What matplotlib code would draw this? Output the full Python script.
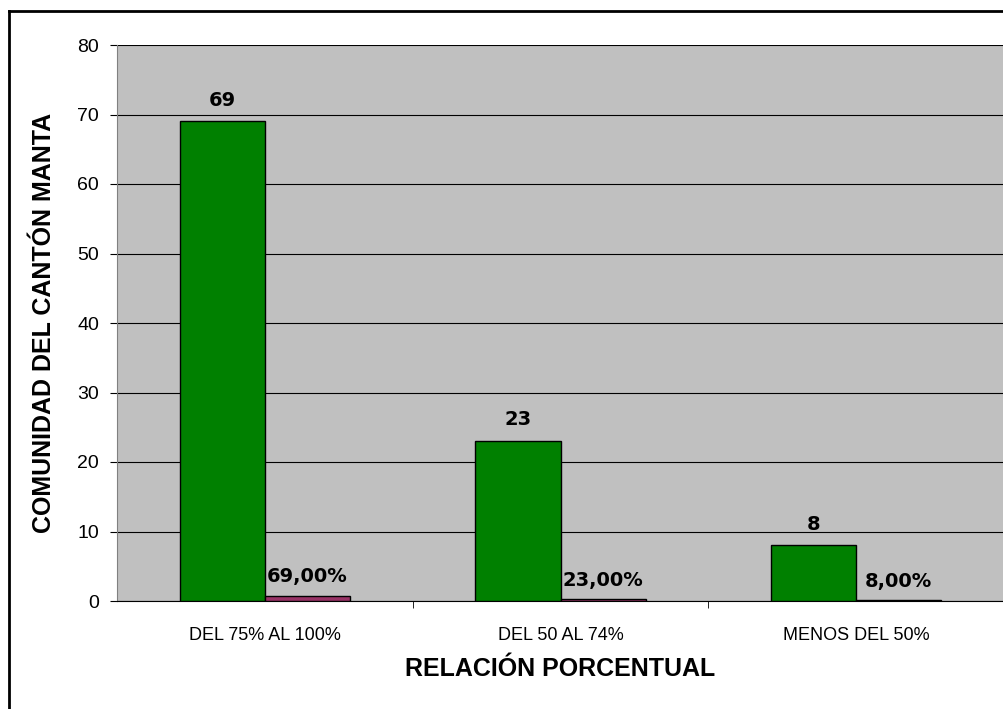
import matplotlib.pyplot as plt
import numpy as np
from matplotlib.lines import Line2D

categorias = ['DEL 75% AL 100%', 'DEL 50 AL 74%', 'MENOS DEL 50%']
comunidad = [69, 23, 8]
porcentaje = [0.69, 0.23, 0.08]
etiquetas_pct = ['69,00%', '23,00%', '8,00%']

fig = plt.figure(figsize=(10.04, 7.09), dpi=100)
ax = fig.add_axes([117 / 1004, 1 - 601 / 709, 887 / 1004, 556 / 709])

x = np.arange(len(categorias))
w = 0.288
ax.bar(x - w / 2, comunidad, w, color='#008000', edgecolor='black', linewidth=1, zorder=3)
ax.bar(x + w / 2, porcentaje, w, color='#993366', edgecolor='black', linewidth=1, zorder=3)

# etiquetas de datos
for i, v in enumerate(comunidad):
    ax.text(i - w / 2, v + 1.7, str(v), ha='center', va='bottom',
            fontsize=14, fontweight='bold', family='DejaVu Sans', zorder=4)
for i, v in enumerate(porcentaje):
    ax.text(i + w / 2, v + 1.4, etiquetas_pct[i], ha='center', va='bottom',
            fontsize=14, fontweight='bold', family='DejaVu Sans', zorder=4)

ax.set_facecolor('#C0C0C0')
ax.set_xlim(-0.5, 2.5)
ax.set_ylim(0, 80)
ax.set_yticks(np.arange(0, 81, 10))
ax.yaxis.grid(True, color='black', linewidth=0.8, zorder=0)
ax.set_axisbelow(True)

ax.set_xticks(x)
ax.set_xticklabels(categorias, family='Liberation Sans', fontsize=13)
ax.tick_params(axis='x', length=0, pad=19)
ax.set_xticks([0.5, 1.5, 2.5], minor=True)
ax.tick_params(axis='x', which='minor', length=5, direction='out')
ax.tick_params(axis='y', length=5, direction='out', labelsize=14, pad=8)
for lab in ax.get_yticklabels():
    lab.set_family('Liberation Sans')

for s in ['top', 'right']:
    ax.spines[s].set_visible(False)
ax.spines['left'].set_color('#808080')
ax.spines['bottom'].set_color('black')

ax.set_xlabel('RELACIÓN PORCENTUAL', family='Liberation Sans', fontsize=18,
              fontweight='bold', labelpad=9)
ax.set_ylabel('COMUNIDAD DEL CANTÓN MANTA', family='Liberation Sans', fontsize=18,
              fontweight='bold', labelpad=15)

# borde exterior del gráfico
fig.add_artist(Line2D([9 / 1004, 9 / 1004], [0, 1 - 11 / 709], color='black', linewidth=2, transform=fig.transFigure))
fig.add_artist(Line2D([9 / 1004, 1], [1 - 11 / 709, 1 - 11 / 709], color='black', linewidth=2, transform=fig.transFigure))

fig.savefig('out.png', dpi=100)
